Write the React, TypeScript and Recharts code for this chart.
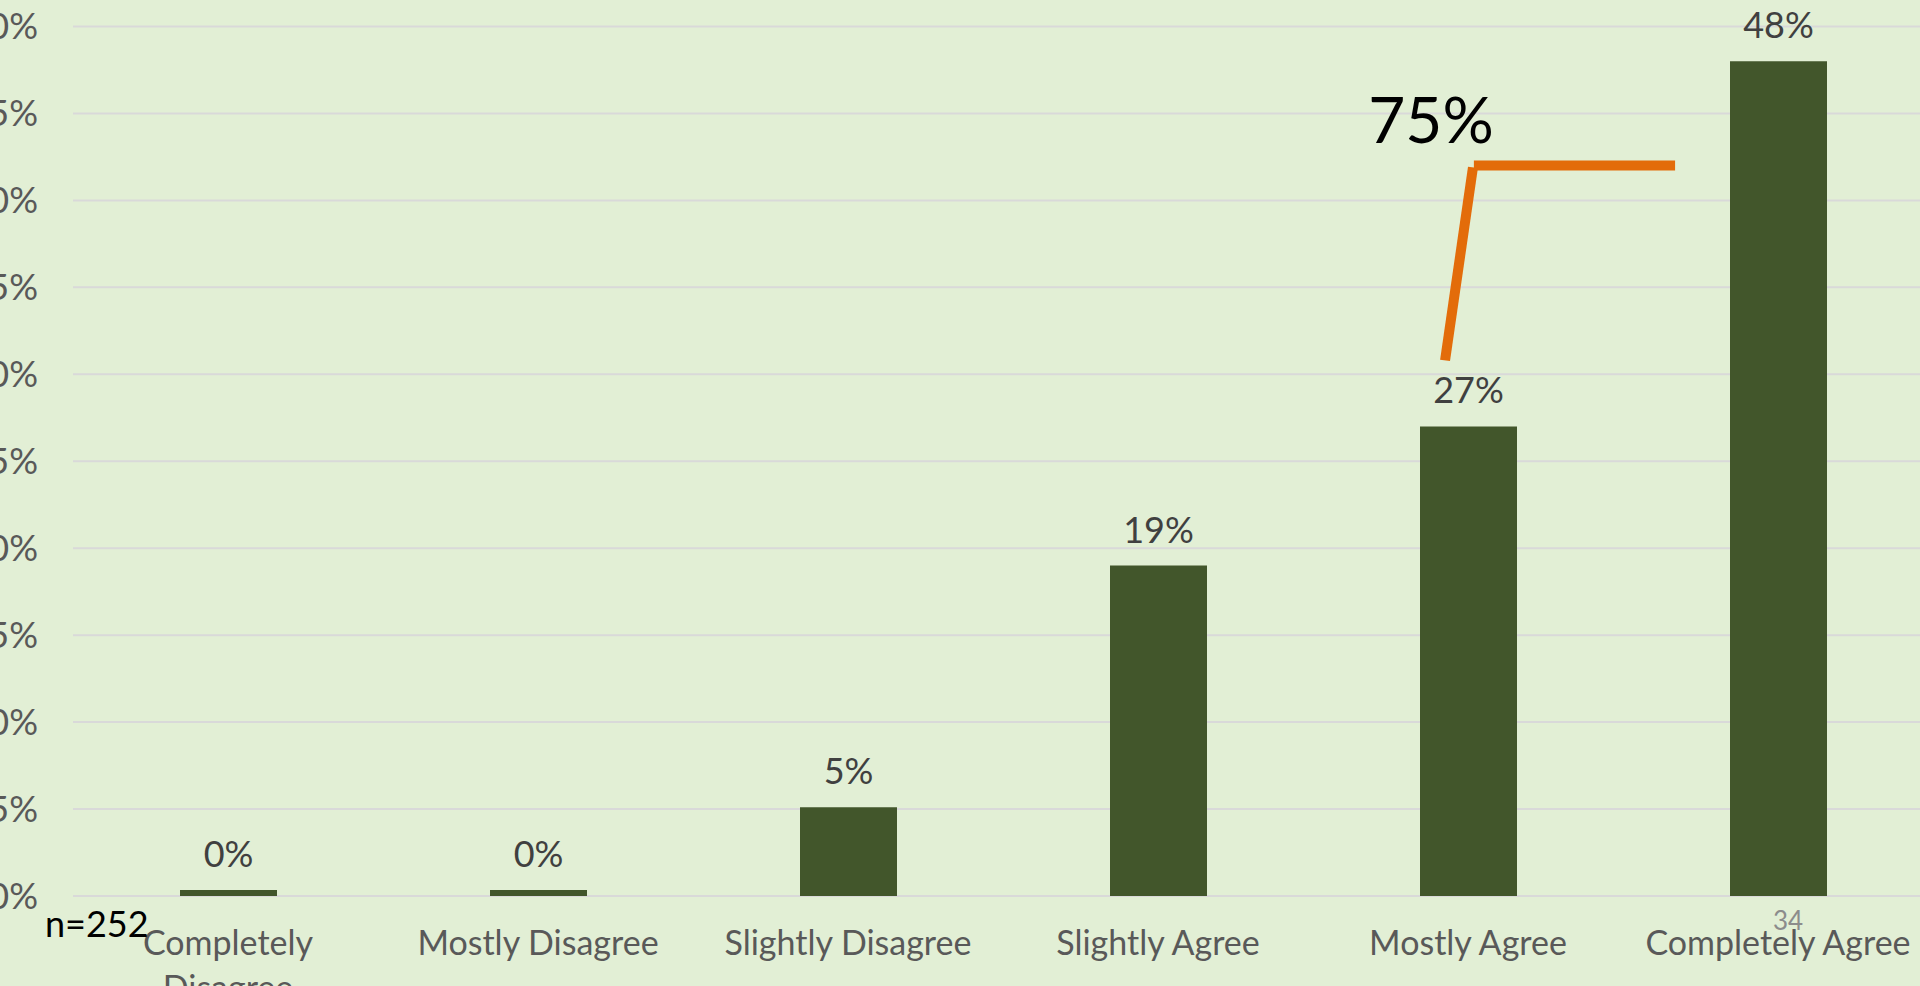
import React from 'react';
import { BarChart, Bar, XAxis, YAxis, CartesianGrid, LabelList, ReferenceLine } from 'recharts';

const FONT = 'Lato, "Open Sans", sans-serif';

// survey answers and their share of respondents (%)
const categories = [
  'Completely Disagree',
  'Mostly Disagree',
  'Slightly Disagree',
  'Slightly Agree',
  'Mostly Agree',
  'Completely Agree',
];
const shares = [0.35, 0.35, 5.1, 19, 27, 48];
const yTicks = [0, 5, 10, 15, 20, 25, 30, 35, 40, 45, 50];

// orange bracket joining "Mostly Agree" + "Completely Agree" (x in category units, y in %)
const bracketRise = [{ x: 4.426, y: 30.8 }, { x: 4.516, y: 41.9 }];
const bracketTop = [{ x: 4.519, y: 42 }, { x: 5.168, y: 42 }];

const sampleNote = 'n=252';
const totalNote = '75%';
const pageNumber = '34';

const chartData = categories.map((name, i) => ({ name, share: shares[i], slot: i + 0.5 }));

let measureCtx: CanvasRenderingContext2D | null = null;
const textWidth = (s: string, font: string) => {
  if (!measureCtx) measureCtx = document.createElement('canvas').getContext('2d');
  if (!measureCtx) return s.length * 17;
  measureCtx.font = font;
  return measureCtx.measureText(s).width;
};

// wrap words so each line stays inside maxWidth, like the slide does
const wrapLabel = (label: string, maxWidth: number, font: string) => {
  const lines: string[] = [];
  let cur = '';
  label.split(' ').forEach((w) => {
    const next = cur ? `${cur} ${w}` : w;
    if (cur && textWidth(next, font) > maxWidth) {
      lines.push(cur);
      cur = w;
    } else {
      cur = next;
    }
  });
  if (cur) lines.push(cur);
  return lines;
};

const CategoryTick = (props: any) => {
  const { x, y, payload } = props;
  const lines = wrapLabel(String(payload.value), 285, `34px Lato`);
  return (
    <text x={x} y={y} textAnchor="middle" fill="#595959" fontFamily={FONT} fontSize={34}>
      {lines.map((ln, i) => (
        <tspan key={i} x={x} dy={i === 0 ? '0.71em' : 45}>
          {ln}
        </tspan>
      ))}
    </text>
  );
};

export default function App() {
  return (
    <div
      style={{
        position: 'fixed',
        left: 0,
        top: 0,
        width: 1920,
        height: 986,
        overflow: 'hidden',
        background: '#E2EFD5',
        fontFamily: FONT,
      }}
    >
      <BarChart
        width={1940}
        height={986}
        data={chartData}
        margin={{ top: 26.5, right: 7, bottom: 0, left: 0 }}
      >
        <CartesianGrid vertical={false} stroke="#D9D9D9" strokeWidth={2} />
        <XAxis
          dataKey="name"
          axisLine={false}
          tickLine={false}
          tickSize={0}
          tickMargin={35}
          height={90}
          interval={0}
          tick={<CategoryTick />}
        />
        <XAxis
          xAxisId="anno"
          dataKey="slot"
          type="number"
          scale="linear"
          domain={[0, 6]}
          allowDataOverflow
          hide
        />
        <YAxis
          domain={[0, 50]}
          ticks={yTicks}
          tickFormatter={(v) => `${v}%`}
          axisLine={false}
          tickLine={false}
          tickSize={0}
          tickMargin={35}
          width={73}
          tick={{ fontFamily: FONT, fontSize: 36, fill: '#595959' }}
        />
        <Bar dataKey="share" fill="#42562B" barSize={97} isAnimationActive={false}>
          <LabelList
            dataKey="share"
            position="top"
            offset={23}
            formatter={(v: any) => `${Math.round(Number(v))}%`}
            fill="#404040"
            style={{ fontFamily: FONT, fontSize: 36 }}
          />
        </Bar>
        <ReferenceLine
          xAxisId="anno"
          segment={bracketRise}
          stroke="#E36C0A"
          strokeWidth={10}
          ifOverflow="visible"
        />
        <ReferenceLine
          xAxisId="anno"
          segment={bracketTop}
          stroke="#E36C0A"
          strokeWidth={10}
          ifOverflow="visible"
        />
      </BarChart>

      {/* slide annotations */}
      <svg
        width={1920}
        height={986}
        style={{ position: 'absolute', left: 0, top: 0, pointerEvents: 'none' }}
      >
        <text x={1431} y={143} textAnchor="middle" fontSize={64} fill="#000" fontFamily={FONT}>
          {totalNote}
        </text>
        <text x={45} y={937} fontSize={36} fill="#000" fontFamily={FONT}>
          {sampleNote}
        </text>
        <text x={1788} y={930} textAnchor="middle" fontSize={26} fill="#8C8C8C" fontFamily={FONT}>
          {pageNumber}
        </text>
      </svg>
    </div>
  );
}
